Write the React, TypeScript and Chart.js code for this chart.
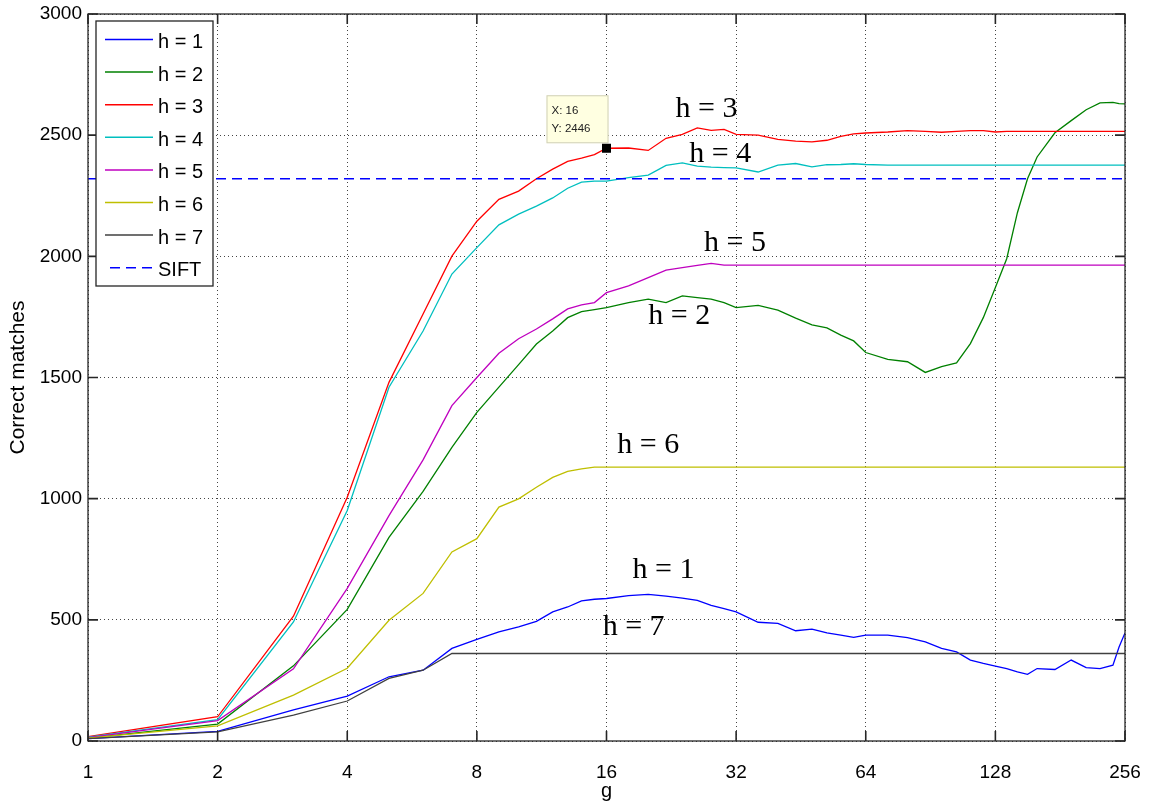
import React, { useEffect, useRef } from 'react';
import { Chart, registerables } from 'chart.js';

Chart.register(...registerables);

// g values (x axis, log2 spaced ticks)
const G = [1, 2, 3, 4, 5, 6, 7, 8, 9, 10, 11, 12, 13, 14, 15, 16, 18, 20, 22, 24, 26, 28, 30, 32, 36, 40, 44, 48, 52, 56, 60, 64, 72, 80, 88, 96, 104, 112, 120, 128, 136, 144, 152, 160, 176, 192, 208, 224, 240, 248, 256];

const H1 = [10, 40, 128, 185, 265, 292, 382, 419, 450, 471, 494, 533, 553, 578, 585, 588, 600, 605, 598, 590, 580, 560, 546, 533, 490, 485, 455, 462, 446, 437, 428, 437, 437, 427, 409, 382, 368, 334, 320, 309, 299, 285, 275, 299, 295, 334, 303, 299, 313, 388, 446];
const H2 = [12, 70, 310, 543, 840, 1030, 1212, 1356, 1460, 1553, 1638, 1692, 1747, 1772, 1780, 1788, 1809, 1823, 1809, 1837, 1830, 1823, 1809, 1788, 1798, 1778, 1745, 1717, 1705, 1675, 1651, 1603, 1575, 1565, 1521, 1545, 1560, 1640, 1747, 1871, 1990, 2180, 2320, 2410, 2510, 2560, 2605, 2633, 2635, 2630, 2629];
const H3 = [18, 100, 515, 1006, 1480, 1762, 2001, 2145, 2235, 2269, 2320, 2360, 2392, 2405, 2420, 2446, 2447, 2437, 2487, 2503, 2530, 2520, 2524, 2503, 2500, 2483, 2475, 2472, 2479, 2495, 2505, 2509, 2513, 2519, 2516, 2512, 2516, 2519, 2519, 2513, 2516, 2516, 2516, 2516, 2516, 2516, 2516, 2516, 2516, 2516, 2516];
const H4 = [16, 88, 491, 951, 1460, 1692, 1927, 2036, 2130, 2174, 2207, 2241, 2281, 2306, 2310, 2310, 2325, 2335, 2375, 2386, 2372, 2368, 2366, 2365, 2348, 2376, 2383, 2369, 2378, 2379, 2382, 2379, 2376, 2376, 2376, 2376, 2376, 2376, 2376, 2376, 2376, 2376, 2376, 2376, 2376, 2376, 2376, 2376, 2376, 2376, 2376];
const H5 = [14, 84, 298, 630, 930, 1160, 1384, 1500, 1600, 1660, 1700, 1742, 1783, 1800, 1809, 1850, 1878, 1912, 1943, 1953, 1963, 1971, 1964, 1964, 1964, 1964, 1964, 1964, 1964, 1964, 1964, 1964, 1964, 1964, 1964, 1964, 1964, 1964, 1964, 1964, 1964, 1964, 1964, 1964, 1964, 1964, 1964, 1964, 1964, 1964, 1964];
const H6 = [12, 62, 189, 300, 498, 609, 780, 835, 965, 999, 1047, 1088, 1113, 1123, 1130, 1130, 1130, 1130, 1130, 1130, 1130, 1130, 1130, 1130, 1130, 1130, 1130, 1130, 1130, 1130, 1130, 1130, 1130, 1130, 1130, 1130, 1130, 1130, 1130, 1130, 1130, 1130, 1130, 1130, 1130, 1130, 1130, 1130, 1130, 1130, 1130];
const H7 = [10, 38, 107, 165, 258, 292, 361, 361, 361, 361, 361, 361, 361, 361, 361, 361, 361, 361, 361, 361, 361, 361, 361, 361, 361, 361, 361, 361, 361, 361, 361, 361, 361, 361, 361, 361, 361, 361, 361, 361, 361, 361, 361, 361, 361, 361, 361, 361, 361, 361, 361];
const SIFT_G = [1, 256];
const SIFT = [2320, 2320];

const X_TICKS = [1, 2, 4, 8, 16, 32, 64, 128, 256];
const Y_TICKS = [0, 500, 1000, 1500, 2000, 2500, 3000];

const SERIES_LABELS = ['h = 1', 'h = 2', 'h = 3', 'h = 4', 'h = 5', 'h = 6', 'h = 7', 'SIFT'];
const SERIES_COLORS = ['#0000ff', '#008000', '#ff0000', '#00bfbf', '#bf00bf', '#bfbf00', '#404040', '#0000ff'];

// in-plot text labels (data coordinates)
const NOTE_TEXT = ['h = 3', 'h = 4', 'h = 5', 'h = 2', 'h = 6', 'h = 1', 'h = 7'];
const NOTE_G = [27.3, 29.4, 31.8, 23.6, 20.0, 21.7, 18.5];
const NOTE_V = [2607, 2421, 2055, 1754, 1219, 704, 469];

const TIP_G = 16;
const TIP_V = 2446;

const SANS = '"Liberation Sans", Arial, Helvetica, sans-serif';
const SERIF = '"Liberation Serif", "Times New Roman", serif';

const overlay = {
  id: 'matlabOverlay',
  afterDatasetsDraw(chart: any) {
    const { ctx, chartArea: a, scales } = chart;
    const xs = scales.x;
    const ys = scales.y;
    ctx.save();
    // frame
    ctx.strokeStyle = '#262626';
    ctx.lineWidth = 1.3;
    ctx.strokeRect(a.left, a.top, a.right - a.left, a.bottom - a.top);
    // inward ticks
    const T = 10;
    ctx.lineWidth = 1.6;
    ctx.beginPath();
    X_TICKS.forEach((v) => {
      const px = xs.getPixelForValue(v);
      ctx.moveTo(px, a.bottom);
      ctx.lineTo(px, a.bottom - T);
      ctx.moveTo(px, a.top);
      ctx.lineTo(px, a.top + T);
    });
    Y_TICKS.forEach((v) => {
      const py = ys.getPixelForValue(v);
      ctx.moveTo(a.left, py);
      ctx.lineTo(a.left + T, py);
      ctx.moveTo(a.right, py);
      ctx.lineTo(a.right - T, py);
    });
    ctx.stroke();

    // text notes
    ctx.fillStyle = '#000';
    ctx.font = `30px ${SERIF}`;
    ctx.textAlign = 'center';
    ctx.textBaseline = 'middle';
    NOTE_TEXT.forEach((t, i) => {
      ctx.fillText(t, xs.getPixelForValue(NOTE_G[i]), ys.getPixelForValue(NOTE_V[i]));
    });

    // legend
    const lx = a.left + 8;
    const ly = a.top + 7;
    const lw = 117;
    const lh = 265;
    ctx.fillStyle = '#fff';
    ctx.fillRect(lx, ly, lw, lh);
    ctx.strokeStyle = '#262626';
    ctx.lineWidth = 1.3;
    ctx.strokeRect(lx, ly, lw, lh);
    ctx.font = `20px ${SANS}`;
    ctx.textAlign = 'left';
    ctx.textBaseline = 'middle';
    SERIES_LABELS.forEach((lab, i) => {
      const yy = ly + 18.5 + i * 32.6;
      ctx.strokeStyle = SERIES_COLORS[i];
      ctx.lineWidth = 1.5;
      ctx.setLineDash(i === 7 ? [10, 6] : []);
      ctx.beginPath();
      ctx.moveTo(lx + (i === 7 ? 14 : 9), yy);
      ctx.lineTo(lx + 57, yy);
      ctx.stroke();
      ctx.setLineDash([]);
      ctx.fillStyle = '#000';
      ctx.fillText(lab, lx + 62, yy + 3);
    });

    // data tip
    const mx = xs.getPixelForValue(TIP_G);
    const my = ys.getPixelForValue(TIP_V);
    const bx = mx - 60;
    const by = my - 53;
    ctx.fillStyle = '#ffffe1';
    ctx.fillRect(bx, by, 62, 48);
    ctx.strokeStyle = '#d0d0b8';
    ctx.lineWidth = 1;
    ctx.strokeRect(bx + 0.5, by + 0.5, 61, 47);
    ctx.fillStyle = '#222';
    ctx.font = `11.5px ${SANS}`;
    ctx.textAlign = 'left';
    ctx.fillText('X: 16', bx + 5, by + 16);
    ctx.fillText('Y: 2446', bx + 5, by + 34);
    ctx.fillStyle = '#000';
    ctx.fillRect(mx - 4.5, my - 4.5, 9, 9);
    ctx.restore();
  },
};

export default function App() {
  const ref = useRef<HTMLCanvasElement | null>(null);
  useEffect(() => {
    document.body.style.margin = '0';
    const canvas = ref.current;
    if (!canvas) return;
    const series = [H1, H2, H3, H4, H5, H6, H7];
    const datasets: any[] = series.map((arr, i) => ({
      label: SERIES_LABELS[i],
      data: G.map((g, j) => ({ x: g, y: arr[j] })),
      borderColor: SERIES_COLORS[i],
      borderWidth: 1.3,
      pointRadius: 0,
      tension: 0,
      fill: false,
      order: 8 - i,
    }));
    datasets.push({
      label: 'SIFT',
      data: SIFT_G.map((g, j) => ({ x: g, y: SIFT[j] })),
      borderColor: SERIES_COLORS[7],
      borderWidth: 1.5,
      borderDash: [10, 6],
      pointRadius: 0,
      fill: false,
      order: 0,
    });
    const chart = new Chart(canvas, {
      type: 'line',
      data: { datasets },
      plugins: [overlay],
      options: {
        responsive: false,
        animation: false,
        devicePixelRatio: 1,
        layout: { padding: { left: 0, top: 14, right: 24, bottom: 0 } },
        plugins: { legend: { display: false }, tooltip: { enabled: false } },
        scales: {
          x: {
            type: 'logarithmic',
            min: 1,
            max: 256,
            afterBuildTicks: (axis: any) => {
              axis.ticks = X_TICKS.map((v) => ({ value: v }));
            },
            afterFit: (axis: any) => {
              axis.height = 62;
              axis.paddingLeft = 0;
              axis.paddingRight = 0;
            },
            ticks: {
              autoSkip: false,
              maxRotation: 0,
              color: '#000',
              font: { family: SANS, size: 19 },
              padding: 20,
              callback: (v: any) => String(v),
            },
            grid: { color: '#444', lineWidth: 1, drawTicks: false },
            border: { display: false, dash: [1, 3] },
            title: {
              display: true,
              text: 'g',
              color: '#000',
              font: { family: SANS, size: 20 },
              padding: { top: 0, bottom: 0 },
            },
          },
          y: {
            type: 'linear',
            min: 0,
            max: 3000,
            afterBuildTicks: (axis: any) => {
              axis.ticks = Y_TICKS.map((v) => ({ value: v }));
            },
            afterFit: (axis: any) => {
              axis.width = 88;
              axis.paddingTop = 0;
              axis.paddingBottom = 0;
            },
            ticks: {
              color: '#000',
              font: { family: SANS, size: 19 },
              padding: 6,
              callback: (v: any) => String(v),
            },
            grid: { color: '#444', lineWidth: 1, drawTicks: false },
            border: { display: false, dash: [1, 3] },
            title: {
              display: true,
              text: 'Correct matches',
              color: '#000',
              font: { family: SANS, size: 21 },
              padding: { top: 6, bottom: 0 },
            },
          },
        },
      },
    });
    return () => chart.destroy();
  }, []);
  return <canvas ref={ref} width={1149} height={803} style={{ display: 'block' }} />;
}
